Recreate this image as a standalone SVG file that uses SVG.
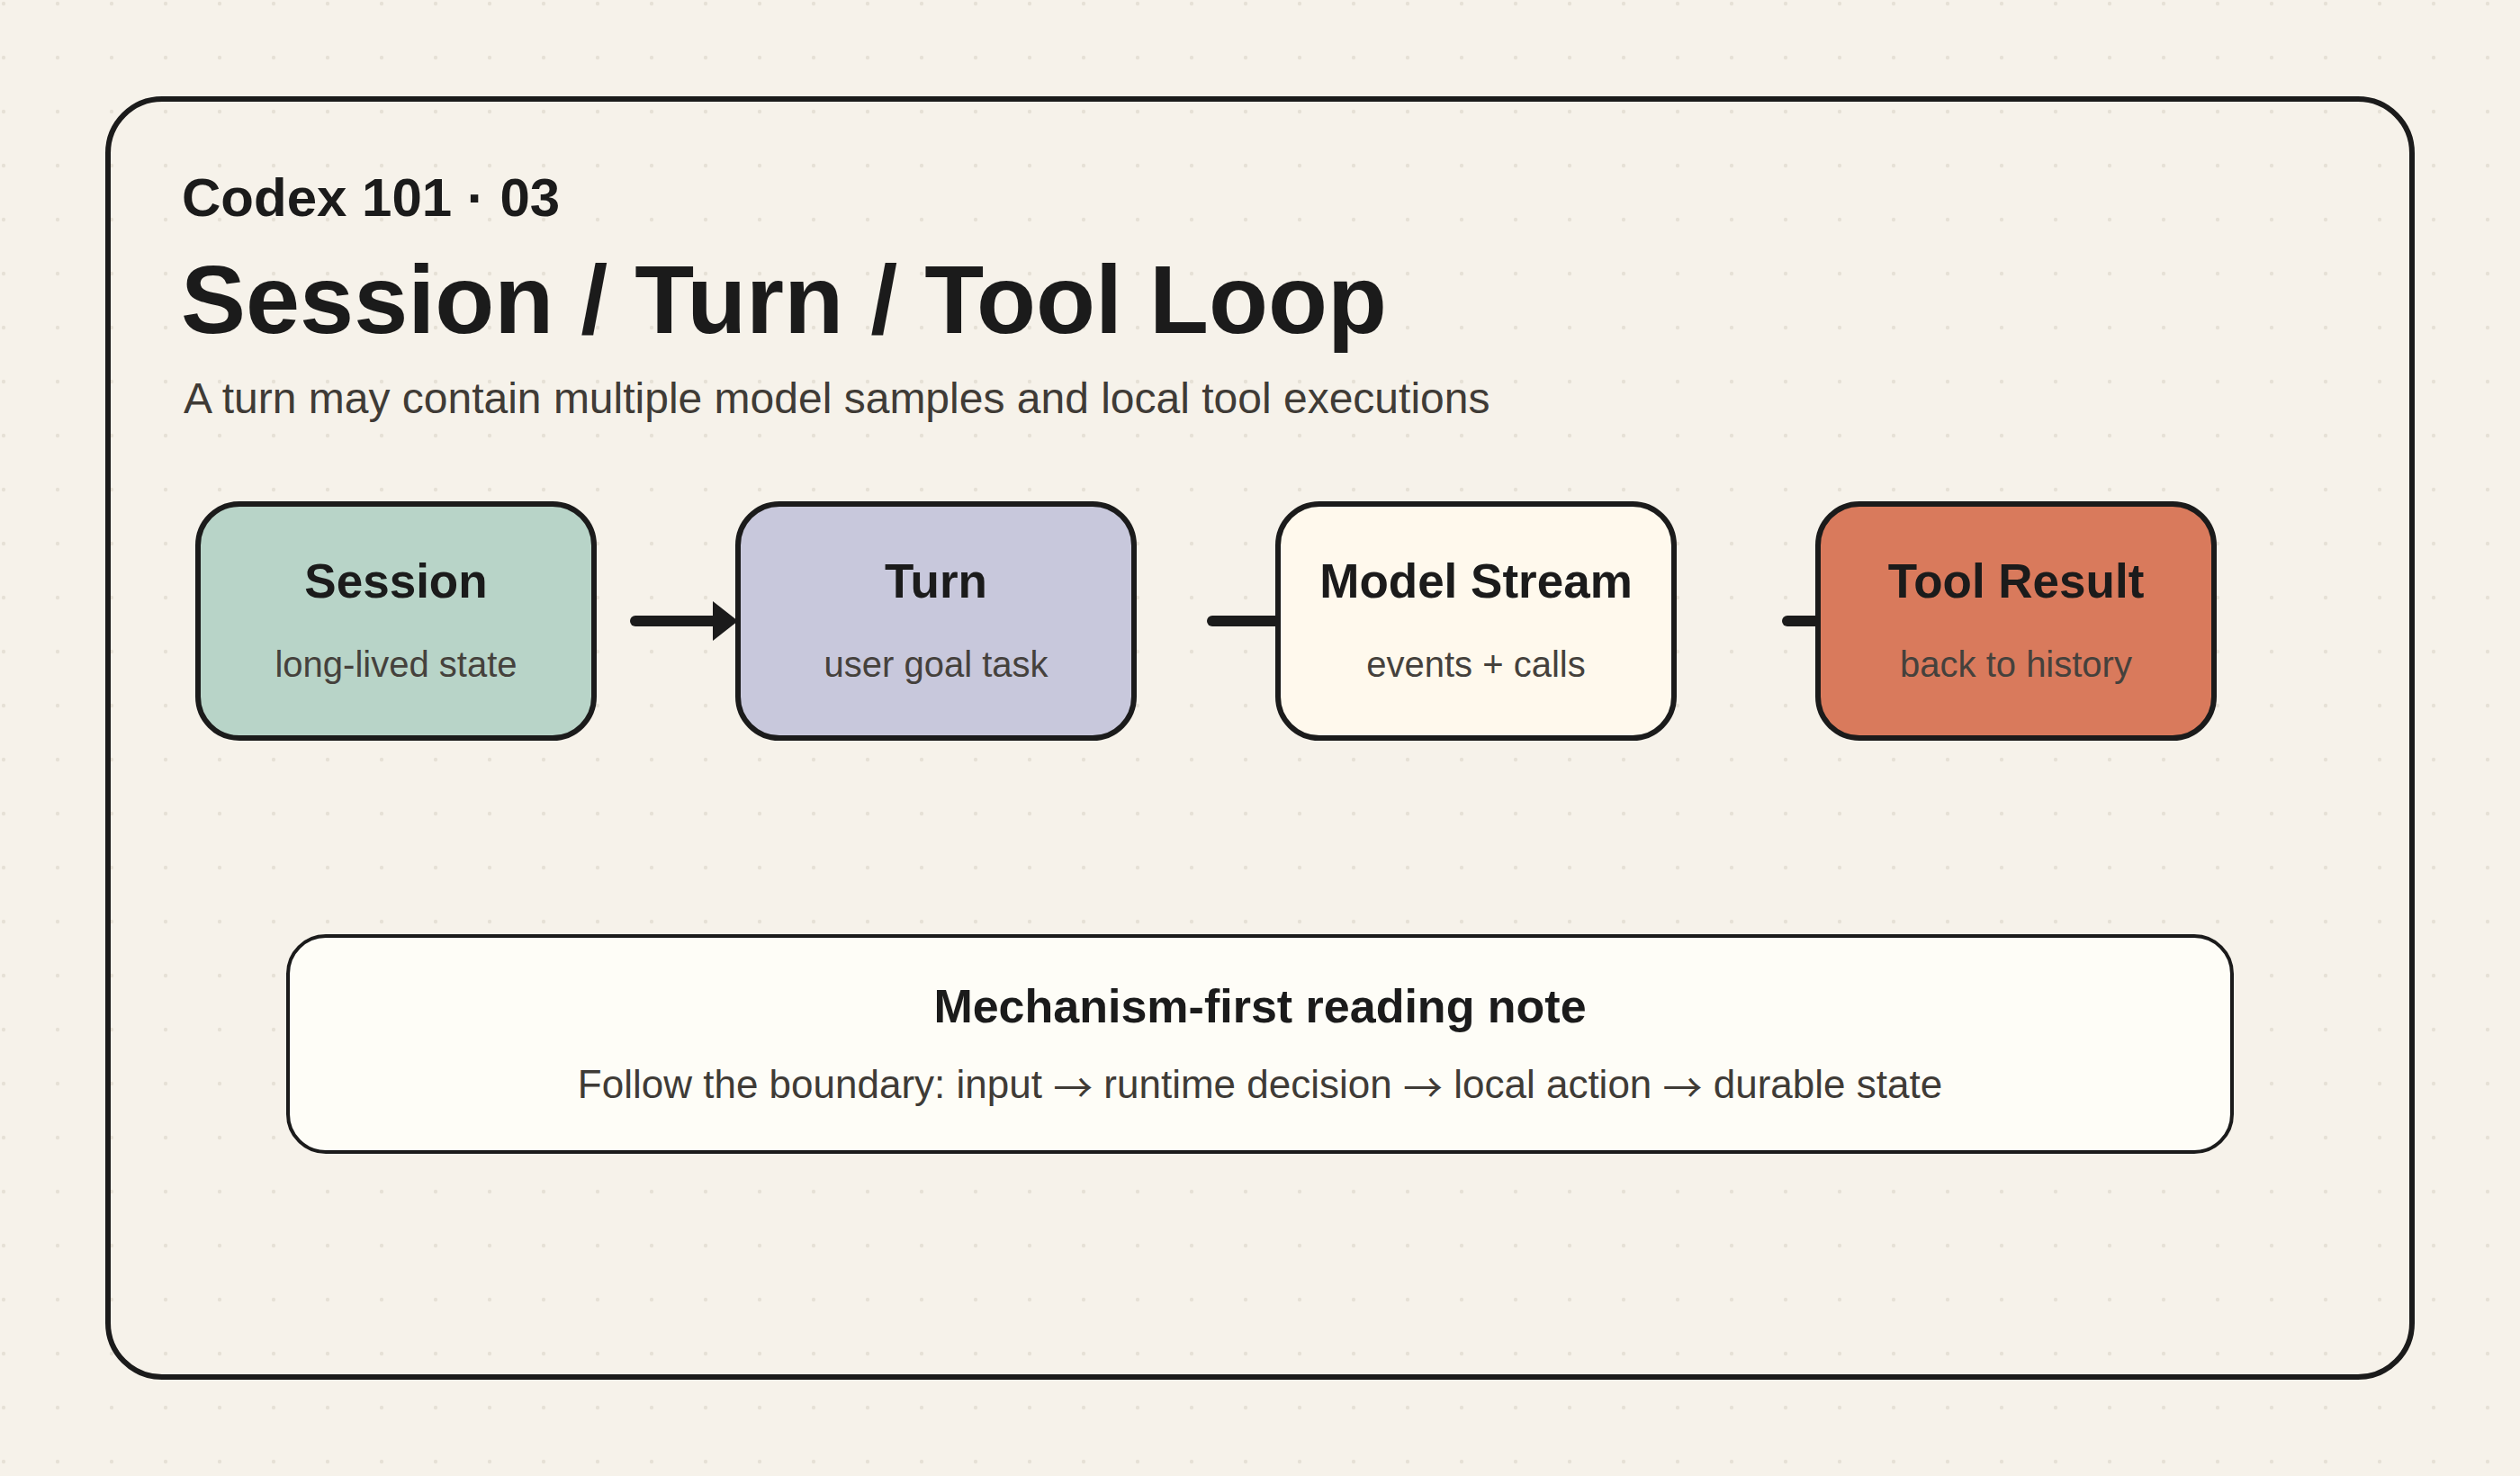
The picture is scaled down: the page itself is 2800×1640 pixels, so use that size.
<svg xmlns="http://www.w3.org/2000/svg" width="2800" height="1640" viewBox="0 0 2800 1640">
  <defs>
    <pattern id="dots" x="0" y="0" width="60" height="60" patternUnits="userSpaceOnUse">
      <circle cx="4" cy="4" r="2.2" fill="#e6e1d6"/>
    </pattern>
    <marker id="arrow" markerUnits="userSpaceOnUse" markerWidth="28" markerHeight="44" viewBox="0 0 28 44" refX="0" refY="22" orient="auto">
      <path d="M0,0 L28,22 L0,44 Z" fill="#1b1b1b"/>
    </marker>
    <style>
      .frame { fill: none; stroke: #1b1b1b; stroke-width: 6; }
      .node rect { stroke: #1b1b1b; stroke-width: 6; }
      .ntitle { font-family: "Liberation Sans", Arial, sans-serif; font-weight: 700; font-size: 53px; fill: #1b1b1b; text-anchor: middle; }
      .nsub { font-family: "Liberation Sans", Arial, sans-serif; font-size: 40px; fill: #45413c; text-anchor: middle; }
      .conn { stroke: #1b1b1b; stroke-width: 12; stroke-linecap: round; fill: none; }
      .kicker { font-family: "Liberation Sans", Arial, sans-serif; font-weight: 700; font-size: 60px; fill: #1b1b1b; }
      .title { font-family: "Liberation Sans", Arial, sans-serif; font-weight: 700; font-size: 108px; fill: #1b1b1b; }
      .subtitle { font-family: "Liberation Sans", Arial, sans-serif; font-size: 48px; fill: #3f3b36; }
      .notetitle { font-family: "Liberation Sans", Arial, sans-serif; font-weight: 700; font-size: 52px; fill: #1b1b1b; text-anchor: middle; }
      .notebody { font-family: "Liberation Sans", Arial, sans-serif; font-size: 44px; fill: #3f3b36; text-anchor: middle; }
      .arr { font-family: "Noto Sans CJK SC", sans-serif; }
    </style>
  </defs>

  <rect x="0" y="0" width="2800" height="1640" fill="#f6f2ea"/>
  <rect x="0" y="0" width="2800" height="1640" fill="url(#dots)"/>

  <rect class="frame" x="120" y="110" width="2560" height="1420" rx="60" ry="60"/>

  <g id="header">
    <text class="kicker" x="202" y="240">Codex 101 · 03</text>
    <text class="title" x="201" y="370">Session / Turn / Tool Loop</text>
    <text class="subtitle" x="204" y="459">A turn may contain multiple model samples and local tool executions</text>
  </g>

  <g id="connectors">
    <line class="conn" x1="706" y1="690" x2="792" y2="690" marker-end="url(#arrow)"/>
    <line class="conn" x1="1347" y1="690" x2="1433" y2="690" marker-end="url(#arrow)"/>
    <line class="conn" x1="1986" y1="690" x2="2072" y2="690" marker-end="url(#arrow)"/>
  </g>

  <g id="node-session" class="node">
    <rect x="220" y="560" width="440" height="260" rx="46" ry="46" fill="#b8d4c8"/>
    <text class="ntitle" x="440" y="664">Session</text>
    <text class="nsub" x="440" y="752">long-lived state</text>
  </g>

  <g id="node-turn" class="node">
    <rect x="820" y="560" width="440" height="260" rx="46" ry="46" fill="#c8c8dc"/>
    <text class="ntitle" x="1040" y="664">Turn</text>
    <text class="nsub" x="1040" y="752">user goal task</text>
  </g>

  <g id="node-model-stream" class="node">
    <rect x="1420" y="560" width="440" height="260" rx="46" ry="46" fill="#fff9ed"/>
    <text class="ntitle" x="1640" y="664">Model Stream</text>
    <text class="nsub" x="1640" y="752">events + calls</text>
  </g>

  <g id="node-tool-result" class="node">
    <rect x="2020" y="560" width="440" height="260" rx="46" ry="46" fill="#d97a5c"/>
    <text class="ntitle" x="2240" y="664">Tool Result</text>
    <text class="nsub" x="2240" y="752">back to history</text>
  </g>

  <g id="note">
    <rect x="320" y="1040" width="2160" height="240" rx="42" ry="42" fill="#fefdf7" stroke="#1b1b1b" stroke-width="4"/>
    <text class="notetitle" x="1400" y="1136">Mechanism-first reading note</text>
    <text class="notebody" x="1400" y="1220">Follow the boundary: input <tspan class="arr" dy="5">→</tspan><tspan dy="-5"> runtime decision </tspan><tspan class="arr" dy="5">→</tspan><tspan dy="-5"> local action </tspan><tspan class="arr" dy="5">→</tspan><tspan dy="-5"> durable state</tspan></text>
  </g>
</svg>
